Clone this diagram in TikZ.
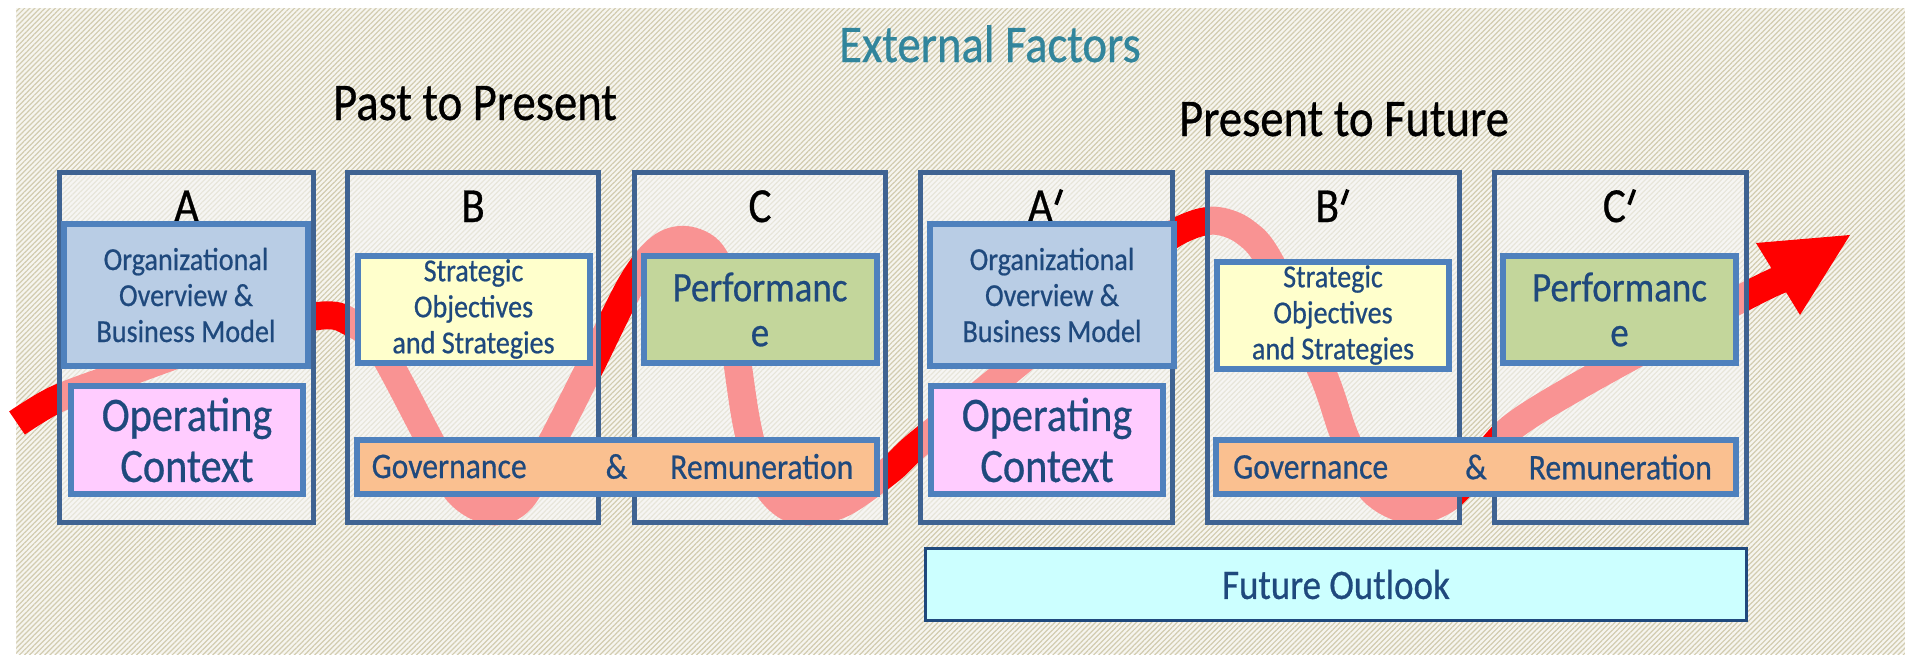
\documentclass[tikz,border=0pt]{standalone}
\usepackage{graphicx}
\usepackage{fontspec}
\setmainfont{Carlito}[FakeStretch=0.88,FakeBold=0.6]
\usetikzlibrary{patterns.meta}
\definecolor{bgfill}{HTML}{F6F5EF}
\definecolor{hatch}{HTML}{D2CCB0}
\definecolor{colborder}{HTML}{3F6392}
\definecolor{colfill}{HTML}{F6F6F6}
\definecolor{boxblue}{HTML}{4F81BD}
\definecolor{navy}{HTML}{1F497D}
\definecolor{orgfill}{HTML}{B9CDE5}
\definecolor{opfill}{HTML}{FFCCFF}
\definecolor{stratfill}{HTML}{FFFFCC}
\definecolor{perffill}{HTML}{C3D69B}
\definecolor{govfill}{HTML}{FAC090}
\definecolor{futfill}{HTML}{CCFFFF}
\definecolor{tealtxt}{HTML}{31859C}
\definecolor{wavered}{HTML}{FF0000}
\newcommand{\myprime}{\kern1.5pt\raisebox{18pt}{\rotatebox{-20}{\rule{3.6pt}{16pt}}}\kern2pt}
\begin{document}
\begin{tikzpicture}[x=1pt,y=-1pt,
  col/.style={draw=colborder, line width=5pt, fill=colfill, fill opacity=0.6, inner sep=0pt, minimum height=350pt},
  letter/.style={anchor=base, inner sep=0pt, text=black, font={\fontsize{49}{52}\selectfont}},
  title/.style={anchor=base, inner sep=0pt, font={\fontsize{53}{56}\selectfont}},
  ibox/.style={draw=boxblue, line width=6pt, inner sep=0pt, align=center, text=navy},
  orgbox/.style={ibox, fill=orgfill, minimum width=244pt, minimum height=142pt, font={\fontsize{32}{36}\selectfont}},
  opbox/.style={ibox, fill=opfill, minimum width=232pt, minimum height=108pt, font={\fontsize{48}{51}\selectfont}},
  stratbox/.style={ibox, fill=stratfill, minimum width=232pt, minimum height=107pt, font={\fontsize{32}{36}\selectfont}},
  perfbox/.style={ibox, fill=perffill, minimum width=233pt, minimum height=107pt, font={\fontsize{42}{45}\selectfont}},
  govbox/.style={ibox, fill=govfill, minimum width=520pt, minimum height=54pt},
  govtxt/.style={inner sep=0pt, text=navy, font={\fontsize{36}{40}\selectfont}},
  futbox/.style={draw=navy, line width=2.5pt, fill=futfill, inner sep=0pt, text=navy, minimum width=821pt, minimum height=72pt, font={\fontsize{42}{46}\selectfont}},
  wave/.style={draw=wavered, line width=28pt}
]
\useasboundingbox (0,0) rectangle (1905,654);
\fill[white] (0,0) rectangle (1905,654);
\fill[bgfill] (16,8) rectangle (1905,654);
\fill[pattern={Lines[angle=45,distance=3.6pt,line width=1.2pt]}, pattern color=hatch] (16,8) rectangle (1905,654);

% titles
\node[title, text=tealtxt] (ext) at (990,62) {External Factors};
\node[title] (past) at (475,120) {Past to Present};
\node[title] (future) at (1344,136) {Present to Future};

% red wave
\draw[wave] plot[smooth, tension=0.55] coordinates {
 (17,423) (55,400) (110,379) (220,340) (318,316) (352,323) (380,348) (428,437)
 (458,492) (492,511) (522,498) (553,440) (590,367) (632,283) (660,248) (686,240)
 (712,254) (728,300) (746,420) (762,477) (785,505) (812,511) (845,502) (890,470)
 (917,445) (1000,378) (1100,295) (1160,243) (1192,225) (1218,221) (1245,232)
 (1270,262) (1322,372) (1345,437) (1372,490) (1410,510) (1445,500) (1475,470)
 (1515,425) (1612,367) (1750,294) (1782,279)};
\fill[wavered] (1850,235) -- (1756,243) -- (1800,315) -- cycle;

% columns
\node[col, minimum width=254pt] (colA) at (186.5,347.5) {};
\node[col, minimum width=251pt] (colB) at (473,347.5) {};
\node[col, minimum width=251pt] (colC) at (760,347.5) {};
\node[col, minimum width=252pt] (colAp) at (1046.5,347.5) {};
\node[col, minimum width=252pt] (colBp) at (1333.5,347.5) {};
\node[col, minimum width=252pt] (colCp) at (1620.5,347.5) {};

% column letters
\node[letter] (lA) at (186.5,222) {A};
\node[letter] (lB) at (473,222) {B};
\node[letter] (lC) at (760,222) {C};
\node[letter] (lAp) at (1046.5,222) {A\myprime};
\node[letter] (lBp) at (1333.5,222) {B\myprime};
\node[letter] (lCp) at (1620.5,222) {C\myprime};

% inner boxes
\node[orgbox] (orgA) at (186,295) {Organizational\\Overview \&\\Business Model};
\node[orgbox] (orgAp) at (1052,295) {Organizational\\Overview \&\\Business Model};
\node[opbox] (opA) at (187,440) {Operating\\Context};
\node[opbox] (opAp) at (1047,440) {Operating\\Context};
\node[stratbox] (strB) at (473.5,309) {Strategic\\Objectives\\and Strategies};
\node[stratbox] (strBp) at (1333,315) {Strategic\\Objectives\\and Strategies};
\node[perfbox] (perfC) at (760,309.5) {Performanc\\e};
\node[perfbox] (perfCp) at (1619.5,309.5) {Performanc\\e};

\node[govbox] (gov1) at (616.5,466.5) {};
\node[govtxt, anchor=west] (gov1a) at ([xshift=18pt]gov1.west) {Governance};
\node[govtxt] (gov1b) at (gov1.center) {\&};
\node[govtxt, anchor=east] (gov1c) at ([xshift=-26pt]gov1.east) {Remuneration};

\node[govbox] (gov2) at (1476,467) {};
\node[govtxt, anchor=west] (gov2a) at ([xshift=20pt]gov2.west) {Governance};
\node[govtxt] (gov2b) at (gov2.center) {\&};
\node[govtxt, anchor=east] (gov2c) at ([xshift=-27pt]gov2.east) {Remuneration};

\node[futbox] (fut) at (1336,584.5) {Future Outlook};
\end{tikzpicture}
\end{document}
